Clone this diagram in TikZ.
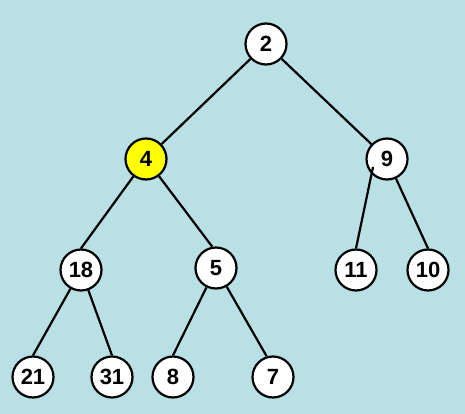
\documentclass[tikz,border=0pt]{standalone}
\usepackage{fontspec}
\setmainfont{Liberation Sans}
\usepackage{xcolor}
\usetikzlibrary{calc}
\definecolor{bgblue}{HTML}{B9E0E4}
\definecolor{hilite}{HTML}{FFFF00}

\begin{document}
\begin{tikzpicture}[x=1pt,y=-1pt,
  heapnode/.style={circle,draw=black,line width=2.2pt,fill=white,minimum size=41pt,inner sep=0pt,font=\fontsize{22}{26}\selectfont\bfseries},
  heapedge/.style={line width=2.2pt}]
\fill[bgblue] (0,0) rectangle (465,414);
\useasboundingbox (0,0) rectangle (465,414);
\node[heapnode] (n2) at (266,44) {2};
\node[heapnode,fill=hilite] (n4) at (146,159) {4};
\node[heapnode] (n9) at (387,159) {9};
\node[heapnode] (n18) at (81,270) {18};
\node[heapnode] (n5) at (216,268) {5};
\node[heapnode] (n11) at (356,270) {11};
\node[heapnode] (n10) at (428,270) {10};
\node[heapnode] (n21) at (33,377) {21};
\node[heapnode] (n31) at (112,377) {31};
\node[heapnode] (n8) at (173,377) {8};
\node[heapnode] (n7) at (273,377) {7};
\draw[heapedge] (n2)--(n4) (n2)--(n9);
\draw[heapedge] (n4)--(n18.north) (n4)--(n5.100);
\draw[heapedge] (n18)--(n21.north) (n18)--(n31.north);
\draw[heapedge] (n5)--(n8.north) (n5)--(n7.107);
\draw[heapedge] ($(n9.center)+(-14,8)$)--(n11.north) (n9)--(n10.north);
\end{tikzpicture}
\end{document}
